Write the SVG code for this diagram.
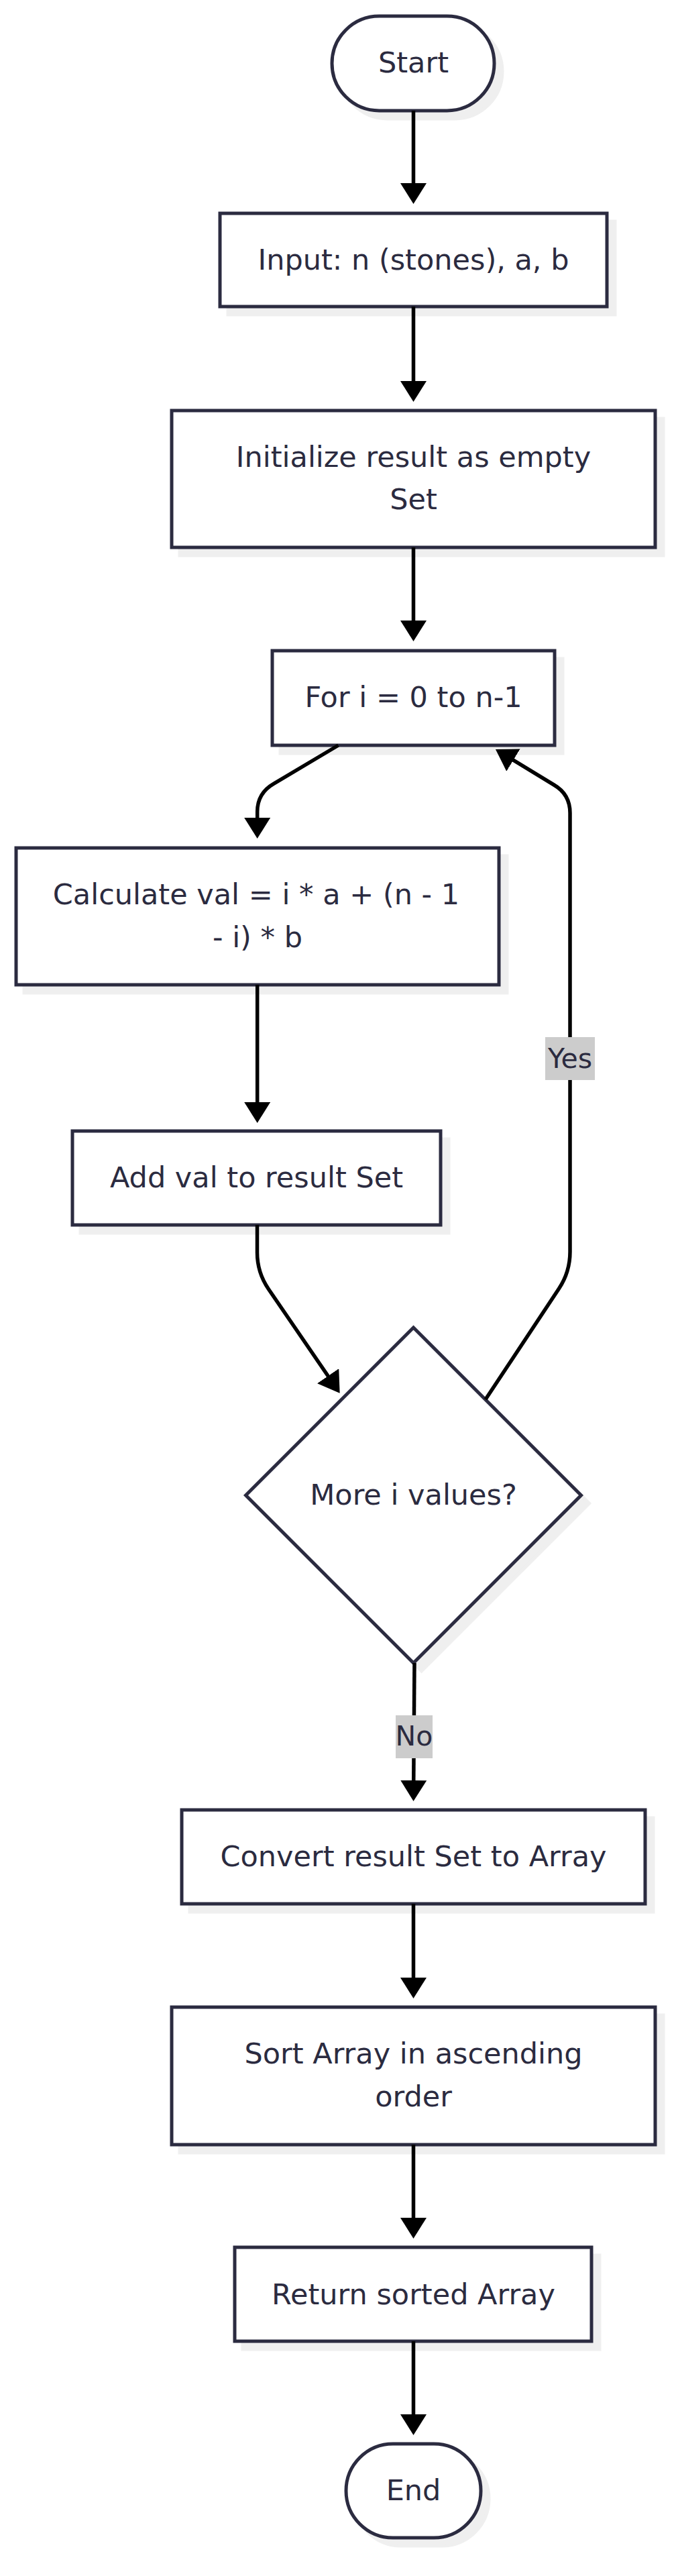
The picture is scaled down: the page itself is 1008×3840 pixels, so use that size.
<svg xmlns="http://www.w3.org/2000/svg" width="1008" height="3840" viewBox="0 0 1008 3840">
<defs>
<marker id="arr" markerUnits="userSpaceOnUse" viewBox="0 0 31 39" markerWidth="31" markerHeight="39" refX="21" refY="19.5" orient="auto">
<path d="M0,0 L31,19.5 L0,39 z" fill="#000"/>
</marker>
<style>
.box{fill:#ffffff;stroke:#2b2b40;stroke-width:5}
.sh{fill:#efefef;stroke:#efefef;stroke-width:5}
.t{font-family:"DejaVu Sans","Liberation Sans",sans-serif;font-size:43px;fill:#2b2b40;text-anchor:middle}
.lt{font-family:"DejaVu Sans","Liberation Sans",sans-serif;font-size:41px;fill:#2b2b40;text-anchor:middle}
.edge{fill:none;stroke:#000;stroke-width:5.5;marker-end:url(#arr)}
.lbl{fill:#cccccc}
</style>
</defs>
<rect width="1008" height="3840" fill="#ffffff"/>

<g id="node-start">
<rect class="sh" x="507" y="36" width="242" height="141" rx="70.5"/>
<rect class="box" x="495" y="24" width="242" height="141" rx="70.5"/>
<text class="t" x="616.5" y="108">Start</text>
</g>
<g id="node-input">
<rect class="sh" x="340" y="330" width="577" height="139"/>
<rect class="box" x="328" y="318" width="577" height="139"/>
<text class="t" x="616.5" y="402">Input: n (stones), a, b</text>
</g>
<g id="node-init">
<rect class="sh" x="268" y="624" width="721" height="204"/>
<rect class="box" x="256" y="612" width="721" height="204"/>
<text class="t" x="616.5" y="696">Initialize result as empty</text>
<text class="t" x="616.5" y="759">Set</text>
</g>
<g id="node-for">
<rect class="sh" x="418" y="982" width="421" height="141"/>
<rect class="box" x="406" y="970" width="421" height="141"/>
<text class="t" x="616.5" y="1054">For i = 0 to n-1</text>
</g>
<g id="node-calc">
<rect class="sh" x="36" y="1276" width="720" height="204"/>
<rect class="box" x="24" y="1264" width="720" height="204"/>
<text class="t" x="382" y="1348">Calculate val = i * a + (n - 1</text>
<text class="t" x="384" y="1412">- i) * b</text>
</g>
<g id="node-add">
<rect class="sh" x="120" y="1698" width="549" height="140"/>
<rect class="box" x="108" y="1686" width="549" height="140"/>
<text class="t" x="382.5" y="1770">Add val to result Set</text>
</g>
<g id="node-more">
<polygon class="sh" points="628.5,1991 878.5,2241 628.5,2491 378.5,2241"/>
<polygon class="box" points="616.5,1979 866.5,2229 616.5,2479 366.5,2229"/>
<text class="t" x="616.5" y="2243">More i values?</text>
</g>
<g id="node-convert">
<rect class="sh" x="283" y="2710" width="691" height="140"/>
<rect class="box" x="271" y="2698" width="691" height="140"/>
<text class="t" x="616.5" y="2782">Convert result Set to Array</text>
</g>
<g id="node-sort">
<rect class="sh" x="268" y="3004" width="721" height="205"/>
<rect class="box" x="256" y="2992" width="721" height="205"/>
<text class="t" x="616.5" y="3076">Sort Array in ascending</text>
<text class="t" x="616.5" y="3140">order</text>
</g>
<g id="node-return">
<rect class="sh" x="362" y="3362" width="532" height="140"/>
<rect class="box" x="350" y="3350" width="532" height="140"/>
<text class="t" x="616.5" y="3435">Return sorted Array</text>
</g>
<g id="node-end">
<rect class="sh" x="528" y="3655" width="201" height="140" rx="70"/>
<rect class="box" x="516" y="3643" width="201" height="140" rx="70"/>
<text class="t" x="616.5" y="3727">End</text>
</g>

<g id="connectors">
<path class="edge" d="M616.5,165 L616.5,294"/>
<path class="edge" d="M616.5,457 L616.5,589"/>
<path class="edge" d="M616.5,816 L616.5,946"/>
<path class="edge" d="M504.5,1111 L408,1168.4 Q383.7,1182.4 383.7,1210 L383.7,1240"/>
<path class="edge" d="M383.7,1468 L383.7,1664"/>
<path class="edge" d="M383.5,1826 L383.5,1867 Q383.5,1897 400.5,1921.7 L501,2068.5"/>
<path class="edge" d="M724,2086 L833.4,1921 Q850,1896 850,1866 L850,1212 Q850,1184 826,1170 L747.5,1122.2"/>
<path class="edge" d="M618,2479 L616.6,2675"/>
<path class="edge" d="M616.5,2838 L616.5,2969"/>
<path class="edge" d="M616.5,3197 L616.5,3327"/>
<path class="edge" d="M616.5,3490 L616.5,3620"/>
<g id="label-yes">
<rect class="lbl" x="813" y="1546" width="74" height="64"/>
<text class="lt" x="850" y="1592">Yes</text>
</g>
<g id="label-no">
<rect class="lbl" x="590" y="2557" width="55" height="64"/>
<text class="lt" x="617.5" y="2602">No</text>
</g>
</g>
</svg>
